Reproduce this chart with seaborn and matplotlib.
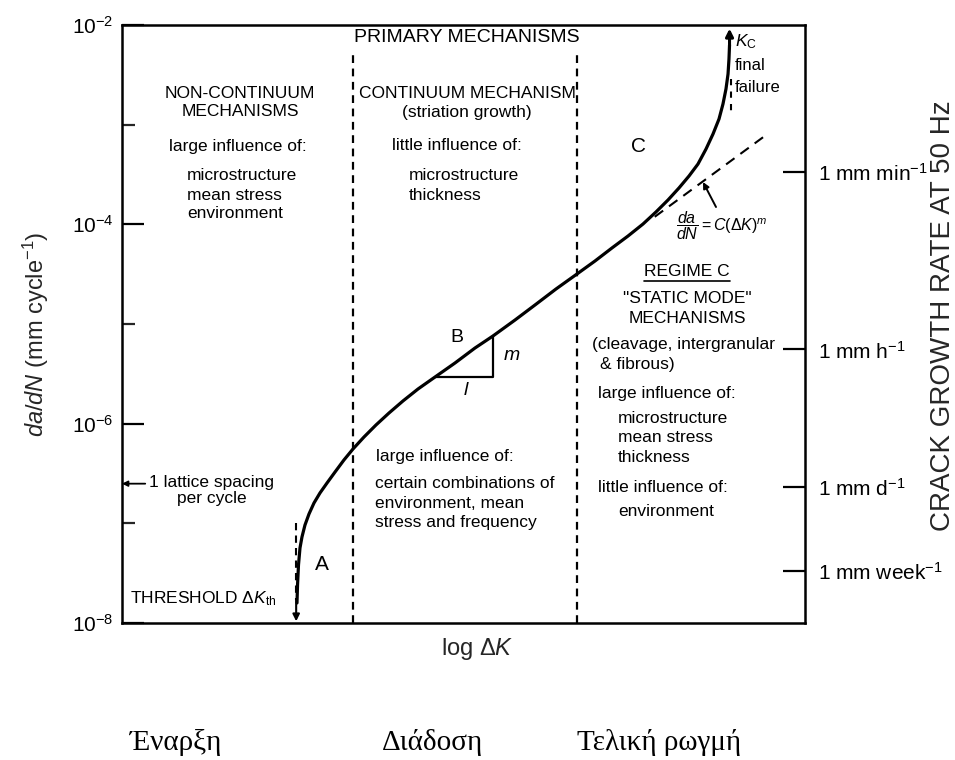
import numpy as np
import pandas as pd
import matplotlib
matplotlib.use("Agg")
import matplotlib.pyplot as plt
from matplotlib.lines import Line2D
from matplotlib.ticker import FixedLocator, FuncFormatter, NullFormatter, NullLocator
import seaborn as sns

# Fatigue crack growth curve: log(ΔK) in arbitrary units, da/dN in mm/cycle
log_dk = [2.562, 2.570, 2.584, 2.606, 2.635, 2.679, 2.738, 2.811, 2.899,
          3.002, 3.119, 3.250, 3.382, 3.543, 3.719, 3.909, 4.114, 4.334,
          4.583, 4.876, 5.168, 5.432, 5.754, 6.047, 6.354, 6.662, 6.925,
          7.174, 7.409, 7.628, 7.818, 7.994, 8.155, 8.302, 8.433, 8.551,
          8.653, 8.741, 8.799, 8.843, 8.873, 8.887, 8.895]
da_dn = [1.589e-8, 2.404e-8, 3.819e-8, 5.662e-8, 7.295e-8, 9.616e-8,
         1.242e-7, 1.600e-7, 2.018e-7, 2.541e-7, 3.273e-7, 4.325e-7,
         5.572e-7, 7.345e-7, 9.705e-7, 1.279e-6, 1.690e-6, 2.228e-6,
         2.938e-6, 4.064e-6, 5.741e-6, 7.586e-6, 1.096e-5, 1.552e-5,
         2.244e-5, 3.177e-5, 4.285e-5, 5.794e-5, 7.638e-5, 1.007e-4,
         1.330e-4, 1.754e-4, 2.317e-4, 3.055e-4, 4.027e-4, 5.702e-4,
         8.054e-4, 1.140e-3, 1.611e-3, 2.280e-3, 3.221e-3, 4.560e-3,
         6.295e-3]

regime_bounds = [3.38, 6.66]          # A | B | C
dk_threshold = 2.55
dk_critical = 8.91
paris_x = [7.80, 9.43]
paris_y = [1.19e-4, 7.87e-4]
slope_tri_x = [4.58, 5.43]
lattice_spacing = 2.5e-7              # mm per cycle

decade_ticks = [1e-8, 1e-6, 1e-4, 1e-2]
decade_minor = [1e-7, 1e-5, 1e-3]

test_freq_hz = 50
rate_labels = ["1 mm min$^{-1}$", "1 mm h$^{-1}$", "1 mm d$^{-1}$", "1 mm week$^{-1}$"]
rate_seconds = [60, 3600, 86400, 604800]

stage_names = ["Έναρξη", "Διάδοση", "Τελική ρωγμή"]

sns.set_theme(style="white")
plt.rcParams["font.family"] = ["Liberation Sans", "DejaVu Sans"]
plt.rcParams["mathtext.fontset"] = "custom"
plt.rcParams["mathtext.rm"] = "Liberation Sans"
plt.rcParams["mathtext.it"] = "Liberation Sans:italic"
plt.rcParams["mathtext.bf"] = "Liberation Sans:bold"

W, H = 955, 760
fig = plt.figure(figsize=(W / 100, H / 100), dpi=100)
ax = fig.add_axes([122 / W, 1 - 623 / H, 683 / W, 598 / H])


def fxy(px, py):
    return (px / W, 1 - py / H)


ax.set_yscale("log")
ax.set_xlim(0, 10)
ax.set_ylim(1e-8, 1e-2)

curve = pd.DataFrame({"log_dk": log_dk, "da_dn": da_dn})
sns.lineplot(data=curve, x="log_dk", y="da_dn", ax=ax, color="black",
             lw=2.3, sort=False, estimator=None)
ax.lines[-1].set_solid_joinstyle("round")

# regime boundaries
for xb in regime_bounds:
    ax.axvline(xb, ymin=0, ymax=(623 - 50) / 598, color="black", lw=1.6,
               ls=(0, (3.5, 2.5)))

# threshold
ythr_top = 10 ** (-2 - (523 - 25) / 99.67)
ythr_bot = 10 ** (-2 - (600 - 25) / 99.67)
ax.plot([dk_threshold, dk_threshold], [ythr_top, ythr_bot], color="black",
        lw=1.5, ls=(0, (3.5, 2.5)))
ax.annotate("", xy=(dk_threshold, 1.04e-8), xytext=(dk_threshold, ythr_bot),
            arrowprops=dict(arrowstyle="-|>", color="black", lw=1.5,
                            mutation_scale=10, shrinkA=0, shrinkB=0))

# final failure
ax.annotate("", xy=(log_dk[-1], 9.2e-3), xytext=(log_dk[-1], da_dn[-1]),
            arrowprops=dict(arrowstyle="-|>", color="black", lw=2.2,
                            mutation_scale=11, shrinkA=0, shrinkB=0))
ax.plot([dk_critical, dk_critical], [2.9e-3, 1.3e-3], color="black", lw=1.5,
        ls=(0, (3, 3)))

# Paris law line
ax.plot(paris_x, paris_y, color="black", lw=1.5, ls=(0, (5, 3.5)))
ax.annotate("", xy=fxy(703, 182), xytext=fxy(716, 207),
            xycoords="figure fraction", textcoords="figure fraction",
            arrowprops=dict(arrowstyle="-|>", color="black", lw=1.4,
                            mutation_scale=9, shrinkA=0, shrinkB=0))

# slope triangle in regime B
log_curve = np.log10(da_dn)
tri_y = 10 ** np.interp(slope_tri_x, log_dk, log_curve)
ax.plot([slope_tri_x[0], slope_tri_x[1], slope_tri_x[1]],
        [tri_y[0], tri_y[0], tri_y[1]], color="black", lw=1.6)

# one lattice spacing per cycle
ax.annotate("", xy=(0.0, lattice_spacing), xytext=(0.034, lattice_spacing),
            xycoords=ax.get_yaxis_transform(), textcoords=ax.get_yaxis_transform(),
            arrowprops=dict(arrowstyle="-|>", color="black", lw=1.3,
                            mutation_scale=8, shrinkA=0, shrinkB=0))

# axes styling
for s in ax.spines.values():
    s.set_visible(True)
    s.set_color("black")
    s.set_linewidth(1.8)
ax.set_xticks([])
ax.yaxis.set_major_locator(FixedLocator(decade_ticks))
ax.yaxis.set_minor_locator(FixedLocator(decade_minor))
ax.yaxis.set_major_formatter(FuncFormatter(lambda v, _: rf"$10^{{{int(round(np.log10(v)))}}}$"))
ax.yaxis.set_minor_formatter(NullFormatter())
ax.tick_params(axis="y", which="major", direction="in", length=16, width=1.6,
               labelsize=15, pad=6, left=True, right=False, colors="black")
ax.tick_params(axis="y", which="minor", direction="in", length=9, width=1.6,
               left=True, right=False)
ax.set_xlabel(r"log $\Delta K$", fontsize=17, va="top")
ax.xaxis.set_label_coords((477 - 122) / 683, (623 - 636) / 598)
ax.set_ylabel(r"$da/dN$ (mm cycle$^{-1}$)", fontsize=17, va="center")
ax.yaxis.set_label_coords((36 - 122) / 683, (623 - 334) / 598)

# growth rate at the test frequency
rates = [1.0 / (s * test_freq_hz) for s in rate_seconds]
rate_lookup = {round(np.log10(r), 6): lab for r, lab in zip(rates, rate_labels)}
ax2 = ax.twinx()
ax2.set_yscale("log")
ax2.set_ylim(ax.get_ylim())
ax2.yaxis.set_major_locator(FixedLocator(sorted(rates)))
ax2.yaxis.set_minor_locator(NullLocator())
ax2.yaxis.set_major_formatter(FuncFormatter(lambda v, _: rate_lookup.get(round(np.log10(v), 6), "")))
ax2.tick_params(axis="y", which="major", direction="in", length=16, width=1.6,
                labelsize=15, pad=9, right=True, left=False, colors="black")
for s in ax2.spines.values():
    s.set_visible(False)
ax2.grid(False)
ax2.set_ylabel(f"CRACK GROWTH RATE AT {test_freq_hz} Hz", fontsize=20,
               rotation=90, va="center")
ax2.yaxis.set_label_coords((943 - 122) / 683, (623 - 316) / 598)

# annotations
body = 12.5


def note(px, py, s, ha="left", size=body, **kw):
    return fig.text(*fxy(px, py), s, ha=ha, va="center", fontsize=size,
                    color="black", **kw)


note(467, 38, "PRIMARY MECHANISMS", ha="center", size=14)

note(240, 93, "NON-CONTINUUM", ha="center")
note(240, 112, "MECHANISMS", ha="center")
note(238, 147, "large influence of:", ha="center")
note(187, 176, "microstructure")
note(187, 195, "mean stress")
note(187, 213, "environment")

note(467, 93, "CONTINUUM MECHANISM", ha="center")
note(467, 113, "(striation growth)", ha="center")
note(457, 146, "little influence of:", ha="center")
note(409, 176, "microstructure")
note(409, 196, "thickness")

note(376, 457, "large influence of:")
note(375, 484, "certain combinations of")
note(375, 503, "environment, mean")
note(375, 523, "stress and frequency")

note(638, 147, "C", ha="center", size=15)
note(457, 338, "B", ha="center", size=14)
note(322, 565, "A", ha="center", size=15)
note(512, 356, "$m$", ha="center", size=14)
note(466, 390, "$l$", ha="center", size=14)

note(735, 42, r"$K_{\mathrm{C}}$", size=12.5)
note(735, 66, "final", size=12)
note(735, 87, "failure", size=12)
note(722, 226, r"$\dfrac{da}{dN} = C(\Delta K)^{m}$", ha="center", size=11.5)

regime = note(687, 272, "REGIME C", ha="center")
note(687, 299, '"STATIC MODE"', ha="center")
note(687, 318, "MECHANISMS", ha="center")
note(592, 345, "(cleavage, intergranular")
note(600, 365, "& fibrous)")
note(598, 394, "large influence of:")
note(618, 418, "microstructure")
note(618, 438, "mean stress")
note(618, 457, "thickness")
note(598, 487, "little influence of:")
note(618, 512, "environment")

note(149, 482, "1 lattice spacing")
note(212, 499, "per cycle", ha="center")
note(130, 599, r"THRESHOLD $\Delta K_{\mathrm{th}}$")

# stage names under the chart
greek_pos = [(176, "center"), (432, "center"), (577, "left")]
for name, (px, ha) in zip(stage_names, greek_pos):
    fig.text(*fxy(px, 742), name, ha=ha, va="center", fontsize=21,
             family=["Liberation Serif", "DejaVu Serif"], color="black")

# underline the regime heading
fig.canvas.draw()
bb = regime.get_window_extent().transformed(fig.transFigure.inverted())
fig.add_artist(Line2D([bb.x0, bb.x1], [bb.y0 - 0.002, bb.y0 - 0.002],
                      transform=fig.transFigure, color="black", lw=1.2))

fig.savefig("out.png", dpi=100, facecolor="white")
